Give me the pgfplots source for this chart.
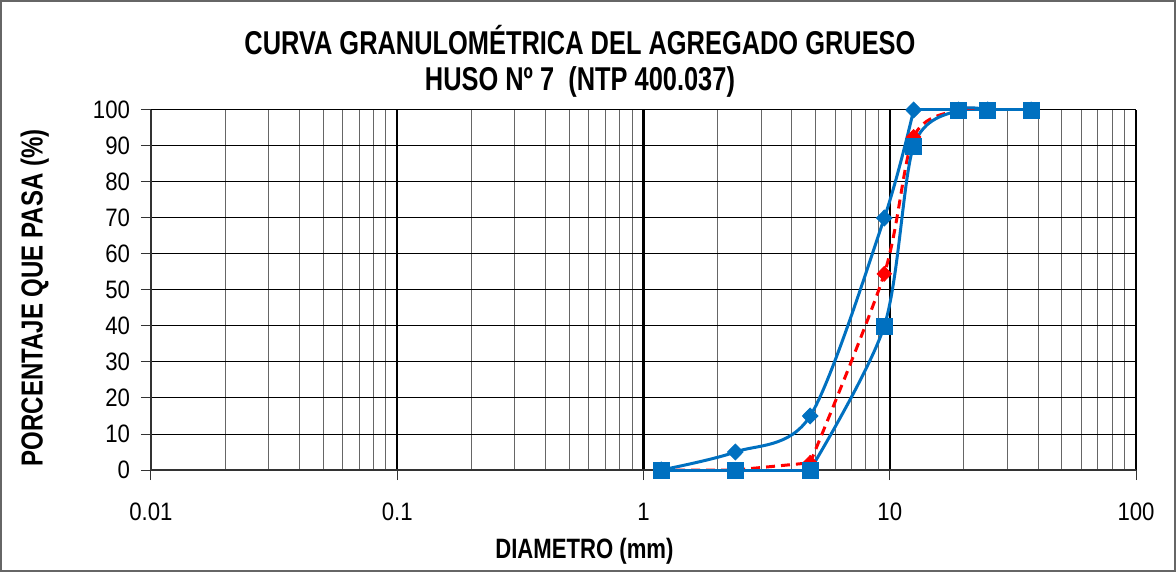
\documentclass[border=0pt]{standalone}
\usepackage{fontspec}
\setmainfont{Liberation Sans}[FakeStretch=0.88]
\newfontfamily\cnfont{Liberation Sans}[FakeStretch=0.79]
\newfontfamily\titlefont{Liberation Sans}[FakeStretch=0.77]
\usepackage{pgfplots}
\pgfplotsset{compat=1.18}
\definecolor{eblue}{HTML}{0070C0}
\definecolor{ered}{HTML}{FF0000}
\begin{document}
\begin{tikzpicture}[x=1pt,y=1pt]
\useasboundingbox (-75.5,-51) rectangle (512.5,235);
\draw[black!60, line width=1pt] (-75,-50.5) rectangle (512,234.5);
\begin{axis}[
  at={(0,0)}, anchor=south west,
  scale only axis, width=492.5pt, height=180pt,
  xmode=log, xmin=0.01, xmax=100, ymin=0, ymax=100,
  xtick={0.01,0.1,1,10,100}, xticklabels={0.01,0.1,1,10,100},
  ytick={0,10,20,30,40,50,60,70,80,90,100},
  /pgf/number format/assume math mode=true,
  xmajorgrids, xminorgrids, ymajorgrids,
  major x grid style={black, line width=1.1pt},
  minor x grid style={black!60, line width=0.5pt},
  major y grid style={black, line width=0.5pt},
  axis x line*=bottom, axis y line*=left,
  axis line style={black!80, line width=0.8pt},
  tick align=outside, major tick length=5pt, minor tick length=0pt,
  tick style={black!80, line width=0.5pt},
  ticklabel style={font=\fontsize{12.6}{14}\selectfont},
  xticklabel style={yshift=-8pt},
  yticklabel style={xshift=-2pt},
  title={CURVA GRANULOMÉTRICA DEL AGREGADO GRUESO\\HUSO Nº 7~~(NTP 400.037)},
  title style={at={(axis description cs:0.4355,1.103)}, anchor=center, align=center,
    font=\titlefont\bfseries\fontsize{16.5}{18}\selectfont},
  xlabel={DIAMETRO (mm)},
  xlabel style={at={(axis description cs:0.44,-0.225)}, anchor=center,
    font=\cnfont\bfseries\fontsize{14}{16}\selectfont},
  ylabel={PORCENTAJE QUE PASA (\%)},
  ylabel style={at={(axis description cs:-0.118,0.478)}, anchor=center, rotate=0,
    font=\cnfont\bfseries\fontsize{15.2}{17}\selectfont},
  clip=false,
]
% upper limit
\addplot[eblue, line width=1.5pt, smooth, no marks]
  coordinates {(1.18,0)(2.36,5)(4.75,15)(9.5,70)(12.5,100)};
\addplot[eblue, line width=1.5pt, no marks]
  coordinates {(12.5,100)(19,100)(25,100)(37.5,100)};
\addplot[eblue, only marks, mark=diamond*, mark size=4pt, mark options={xscale=1.3}]
  coordinates {(1.18,0)(2.36,5)(4.75,15)(9.5,70)(12.5,100)(19,100)(25,100)(37.5,100)};
% sample
\addplot[ered, line width=1.5pt, dash pattern=on 4.5pt off 3pt, no marks]
  coordinates {(1.18,0)(2.36,0)(4.75,2)};
\addplot[ered, line width=1.5pt, dash pattern=on 4.5pt off 3pt, smooth, no marks]
  coordinates {(4.75,2)(9.5,54.5)(12.5,92.5)(19,100)(25,100)};
\addplot[ered, line width=1.5pt, dash pattern=on 4.5pt off 3pt, no marks]
  coordinates {(25,100)(37.5,100)};
\addplot[ered, only marks, mark=diamond*, mark size=3.7pt, mark options={xscale=1.3}]
  coordinates {(1.18,0)(2.36,0)(4.75,2)(9.5,54.5)(12.5,92.5)(19,100)(25,100)(37.5,100)};
% lower limit
\addplot[eblue, line width=1.5pt, no marks]
  coordinates {(1.18,0)(2.36,0)(4.75,0)};
\addplot[eblue, line width=1.5pt, smooth, no marks]
  coordinates {(4.75,0)(9.5,40)(12.5,90)(19,100)(25,100)};
\addplot[eblue, line width=1.5pt, no marks]
  coordinates {(25,100)(37.5,100)};
\addplot[eblue, only marks, mark=square*, mark size=4pt]
  coordinates {(1.18,0)(2.36,0)(4.75,0)(9.5,40)(12.5,90)(19,100)(25,100)(37.5,100)};
\end{axis}
\end{tikzpicture}
\end{document}
